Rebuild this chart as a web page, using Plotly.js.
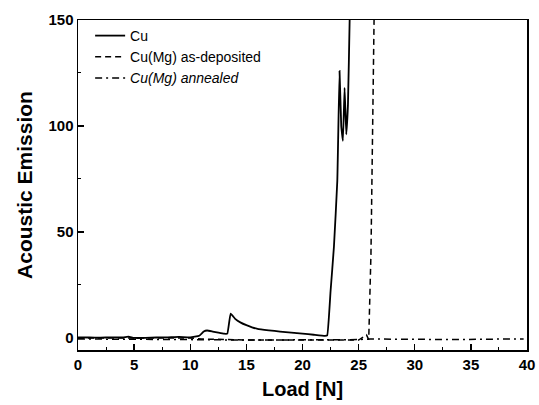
<!DOCTYPE html>
<html>
<head>
<meta charset="utf-8">
<script src="https://cdn.plot.ly/plotly-3.0.1.min.js"></script>
<style>html,body{margin:0;padding:0;background:#fff;}#chart{width:539px;height:405px;}</style>
</head>
<body>
<div id="chart"></div>
<script>
const seriesNames = ["Cu", "Cu(Mg) as-deposited", "<i>Cu(Mg) annealed</i>"];

const cuLoad = [0,1,2,3,4,4.5,5,6,7,8,9,10,10.8,11.2,11.5,12,12.5,13,13.3,13.6,14,14.5,15,15.5,16,17,18,19,20,21,22,22.2,22.5,22.8,23.1,23.3,23.45,23.6,23.75,23.9,24.05,24.2,24.25];
const cuAE   = [0.3,0.2,0.1,0.3,0.2,0.6,0,0,0.2,0.3,0.5,0.3,1,3,3.5,3,2.5,2,2,11.5,9,7.2,6,5,4.3,3.6,3,2.5,2,1.5,1,1.2,22,43,74,126,100,93,118,96,110,150,160];

const asdepLoad = [0,5,10,11,13,15,18,20,22,24,25,25.7,25.9,26.1,26.4];
const asdepAE   = [0,0,0,-0.5,-0.8,-1,-1,-1,-1,-1.2,-1,1.4,-0.8,40,160];

const annLoad = [0,5,10,15,20,25,26,28,30,32,34,36,38,39.7];
const annAE   = [-0.5,-0.5,-0.8,-1,-1,-0.8,-0.5,-0.6,-0.5,-0.6,-0.8,-0.6,-0.5,-0.5];

const traces = [
  {x: cuLoad, y: cuAE, name: seriesNames[0], mode: "lines", line: {color: "#000", width: 1.8, shape: "spline", smoothing: 0.3}},
  {x: asdepLoad, y: asdepAE, name: seriesNames[1], mode: "lines", line: {color: "#000", width: 1.5, dash: "6px,4px"}},
  {x: annLoad, y: annAE, name: seriesNames[2], mode: "lines", line: {color: "#000", width: 1.5, dash: "7px,4px,2px,4px"}}
];

const FONT = "Liberation Sans, Arial, sans-serif";
const axisCommon = {
  showgrid: false, zeroline: false, showline: true, linecolor: "#000", linewidth: 1.5,
  mirror: true, ticks: "inside", ticklen: 6, tickwidth: 1.3, tickcolor: "#000",
  tickfont: {family: FONT, size: 15, color: "#000", weight: "bold"},
  minor: {ticks: "inside", ticklen: 3, tickwidth: 1, tickcolor: "#000"}
};

const layout = {
  width: 539, height: 405,
  margin: {l: 78, r: 12, t: 20, b: 55},
  paper_bgcolor: "#fff", plot_bgcolor: "#fff",
  showlegend: true,
  legend: {x: 0.027, y: 1.0, xanchor: "left", yanchor: "top", bgcolor: "rgba(0,0,0,0)",
           font: {family: FONT, size: 14, color: "#000"},
           itemwidth: 30, tracegroupgap: 0},
  xaxis: Object.assign({}, axisCommon, {
    range: [0, 40], dtick: 5, tick0: 0,
    minor: Object.assign({}, axisCommon.minor, {dtick: 2.5}),
    title: {text: "Load [N]", standoff: 10, font: {family: FONT, size: 20, color: "#000", weight: "bold"}}
  }),
  yaxis: Object.assign({}, axisCommon, {
    range: [-5.7, 150], tickvals: [0, 50, 100, 150],
    minor: Object.assign({}, axisCommon.minor, {tickvals: [25, 75, 125]}),
    title: {text: "Acoustic Emission", standoff: 10, font: {family: FONT, size: 21, color: "#000", weight: "bold"}}
  })
};

Plotly.newPlot("chart", traces, layout, {displayModeBar: false, staticPlot: true});
</script>
</body>
</html>
